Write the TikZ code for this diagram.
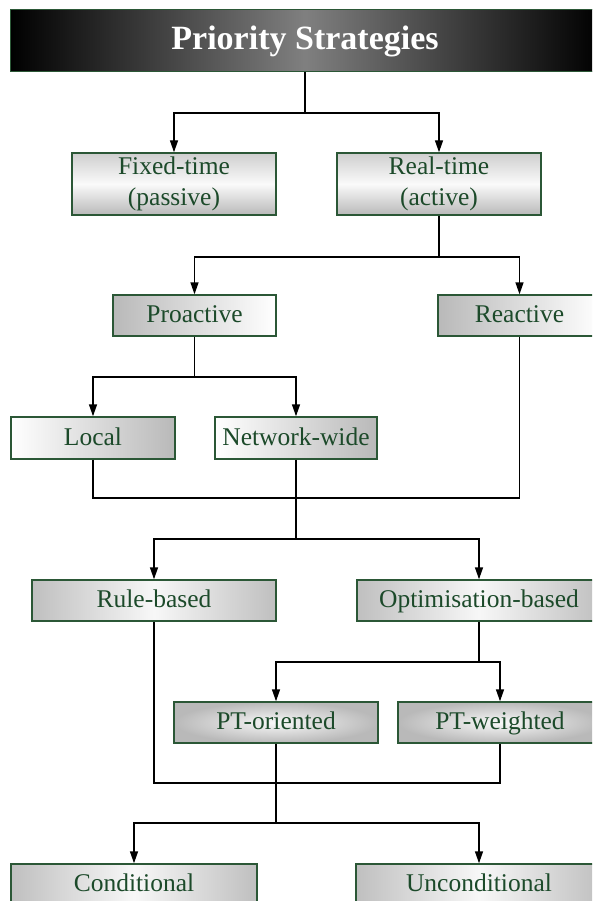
\documentclass[tikz,border=0pt]{standalone}
\usepackage{fontspec}
\setmainfont{Liberation Serif}
\usetikzlibrary{arrows.meta}
\definecolor{boxtext}{HTML}{1C4A2A}
\definecolor{boxedge}{HTML}{2B5736}
\tikzset{
  boxbase/.style={draw=boxedge, line width=1.4pt, rectangle, inner sep=0pt,
    text=boxtext, font=\fontsize{25.5}{31}\selectfont, align=center},
  box/.style={boxbase, text height=17pt, text depth=3pt},
  vgrad/.style={boxbase, top color=gray!38, bottom color=gray!55, middle color=white!96!gray},
  lgrad/.style={box, left color=gray!55, right color=white},
  rgrad/.style={box, left color=white, right color=gray!55},
  mgrad/.style={box, left color=gray!50, right color=gray!50, middle color=white!94!gray},
  rad/.style={box, inner color=white!95!gray, outer color=gray!55},
  link/.style={line width=1.4pt, black},
  arr/.style={link, -{Triangle[length=12pt,width=8pt]}},
}
\begin{document}
\begin{tikzpicture}[x=1pt,y=1pt]
\useasboundingbox (0,0) rectangle (592,-901);
\clip (0,0) rectangle (592,-901);

% heading bar
\node[draw=boxedge, line width=1pt, minimum width=590pt, minimum height=62pt,
      inner sep=0pt, left color=black, right color=black, middle color=gray,
      text=white, font=\fontsize{34}{40}\selectfont\bfseries]
  (title) at (305,-41) {Priority Strategies};

% first level
\node[vgrad, minimum width=204pt, minimum height=62pt] (fixed) at (174,-184) {Fixed-time\\(passive)};
\node[vgrad, minimum width=204pt, minimum height=62pt] (real) at (439,-184) {Real-time\\(active)};

% real-time branches
\node[lgrad, minimum width=163pt, minimum height=41pt] (pro) at (194.5,-315.5) {Proactive};
\node[lgrad, minimum width=163pt, minimum height=41pt] (rea) at (519.5,-315.5) {Reactive};

% proactive branches
\node[rgrad, minimum width=164pt, minimum height=42pt] (local) at (93,-438) {Local};
\node[rgrad, minimum width=162pt, minimum height=42pt] (net) at (296,-438) {Network-wide};

% control logic
\node[mgrad, minimum width=244pt, minimum height=41pt] (rule) at (154,-600.5) {Rule-based};
\node[mgrad, minimum width=244pt, minimum height=41pt] (opt) at (479,-600.5) {Optimisation-based};

% optimisation objective
\node[rad, minimum width=204pt, minimum height=41pt] (pto) at (276,-722.5) {PT-oriented};
\node[rad, minimum width=204pt, minimum height=41pt] (ptw) at (500,-722.5) {PT-weighted};

% granting rule
\node[mgrad, minimum width=246pt, minimum height=41pt] (cond) at (134,-884.5) {Conditional};
\node[mgrad, minimum width=246pt, minimum height=41pt] (uncond) at (479,-884.5) {Unconditional};

% junction points
\coordinate (j1) at (305,-113);
\coordinate (j2) at (439,-257);
\coordinate (j3) at (194.5,-377);
\coordinate (m1) at (93,-498);
\coordinate (j4) at (296,-539);
\coordinate (j5) at (479,-662);
\coordinate (m2) at (154,-783);
\coordinate (j6) at (276,-823);

% connectors
\draw[link] (title.south) -- (j1);
\draw[arr] (j1) -| (fixed.north);
\draw[arr] (j1) -| (real.north);

\draw[link] (real.south) -- (j2);
\draw[arr] (j2) -| (pro.north);
\draw[arr] (j2) -| (rea.north);

\draw[link] (pro.south) -- (j3);
\draw[arr] (j3) -| (local.north);
\draw[arr] (j3) -| (net.north);

\draw[link] (local.south) -- (m1) -| (rea.south);
\draw[link] (net.south) -- (j4);
\draw[arr] (j4) -| (rule.north);
\draw[arr] (j4) -| (opt.north);

\draw[link] (opt.south) -- (j5);
\draw[arr] (j5) -| (pto.north);
\draw[arr] (j5) -| (ptw.north);

\draw[link] (rule.south) -- (m2) -| (ptw.south);
\draw[link] (pto.south) -- (j6);
\draw[arr] (j6) -| (cond.north);
\draw[arr] (j6) -| (uncond.north);
\end{tikzpicture}
\end{document}
